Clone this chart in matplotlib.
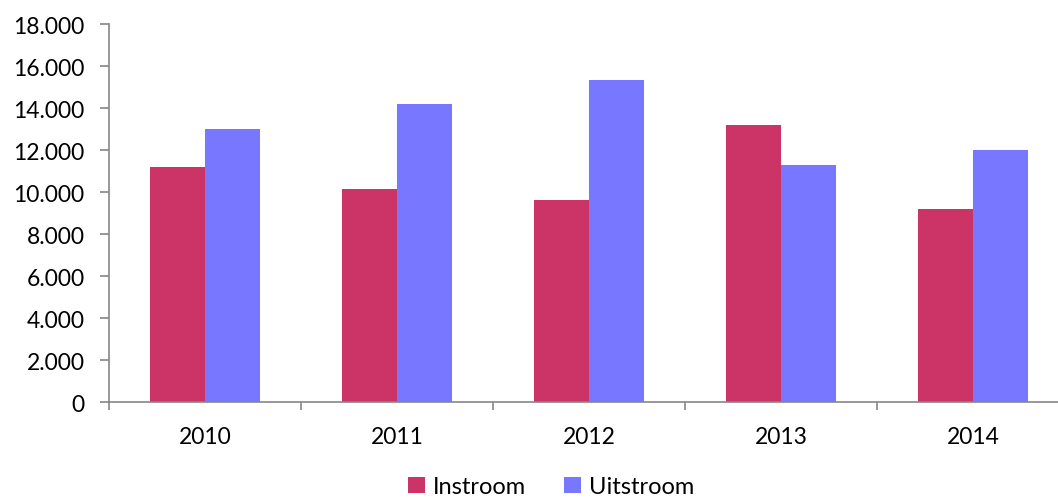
import numpy as np
import matplotlib
matplotlib.use("Agg")
import matplotlib.pyplot as plt
from matplotlib.ticker import FuncFormatter, FixedLocator

plt.rcParams['font.family'] = ['Lato', 'DejaVu Sans']

years = ["2010", "2011", "2012", "2013", "2014"]
instroom = [11220, 10170, 9620, 13190, 9210]
uitstroom = [13030, 14200, 15330, 11310, 12010]

col_in = "#CC3366"
col_uit = "#7777FF"
axis_col = "#868686"

fig = plt.figure(figsize=(10.58, 5.02), dpi=100)
ax = fig.add_axes([109 / 1058, 98.7 / 502, 960 / 1058, 378 / 502])

x = np.arange(len(years))
w = 0.286
ax.bar(x - w / 2, instroom, width=w, color=col_in, label="Instroom", edgecolor="none")
ax.bar(x + w / 2, uitstroom, width=w, color=col_uit, label="Uitstroom", edgecolor="none")

ax.set_xlim(-0.5, len(years) - 0.5)
ax.set_ylim(0, 18000)
ax.set_yticks(np.arange(0, 18001, 2000))
ax.yaxis.set_major_formatter(FuncFormatter(lambda v, p: "{:,.0f}".format(v).replace(",", ".")))

# category boundaries get the tick marks, centres get the labels
ax.xaxis.set_major_locator(FixedLocator(np.arange(-0.5, len(years), 1.0)))
ax.xaxis.set_major_formatter(FuncFormatter(lambda v, p: ""))
ax.set_xticks(x, minor=True)
ax.set_xticklabels(years, minor=True)

ax.tick_params(axis="x", which="major", direction="out", length=6, color=axis_col, width=1.2)
ax.tick_params(axis="x", which="minor", length=0, pad=17, labelsize=16.5)
ax.tick_params(axis="y", direction="out", length=6.5, color=axis_col, width=1.2, pad=11, labelsize=16.5)

for s in ["top", "right"]:
    ax.spines[s].set_visible(False)
for s in ["left", "bottom"]:
    ax.spines[s].set_color(axis_col)
    ax.spines[s].set_linewidth(1.2)

fig.legend(loc="center", bbox_to_anchor=(0.521, 0.028), ncol=2, frameon=False,
           fontsize=17, handlelength=0.7, handleheight=0.7, handletextpad=0.35,
           columnspacing=1.6, borderpad=0.1)

fig.savefig("out.png", dpi=100)
